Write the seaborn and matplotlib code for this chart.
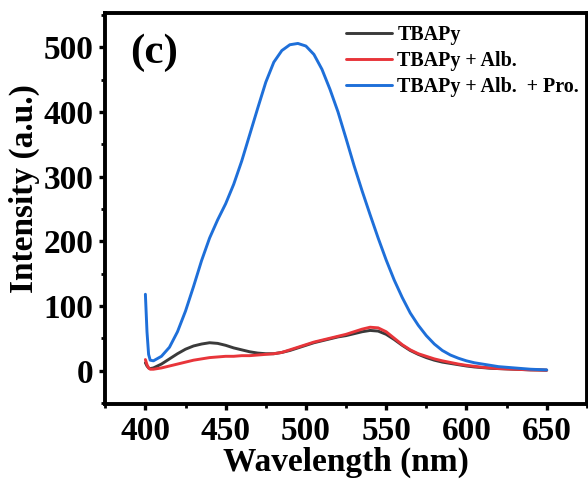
import numpy as np
import pandas as pd
import matplotlib
matplotlib.use("Agg")
import matplotlib.pyplot as plt
import seaborn as sns
from matplotlib.ticker import MultipleLocator

# Emission wavelengths (nm)
wavelength = [400, 401, 402, 403, 405, 410, 415, 420, 425, 430, 435, 440, 445,
              450, 455, 460, 465, 470, 475, 480, 485, 490, 495, 500, 505, 510,
              515, 520, 525, 530, 535, 540, 545, 550, 555, 560, 565, 570, 575,
              580, 585, 590, 595, 600, 605, 610, 615, 620, 625, 630, 635, 640,
              645, 650]

# Fluorescence intensity (a.u.)
tbapy = [12, 7, 4, 3, 4, 10, 18, 26, 33, 38, 41, 43, 42,
         39, 35, 32, 29, 27, 26, 26, 28, 31, 35, 39, 43, 46,
         49, 52, 54, 57, 60, 62, 61, 56, 48, 39, 31, 25, 20,
         16, 13, 11, 9, 7, 5.5, 4.5, 3.5, 3, 2.5, 2, 1.5, 1,
         0.8, 0.5]

tbapy_alb = [17, 9, 4, 2, 2, 4, 7, 10, 13, 16, 18, 20, 21,
             22, 22, 23, 23, 24, 25, 26, 28, 32, 36, 40, 44, 47,
             50, 53, 56, 60, 64, 67, 66, 60, 50, 40, 32, 26, 22,
             18, 15, 12.5, 10, 8, 6.5, 5, 4, 3, 2.5, 2, 1.5, 1,
             0.8, 0.5]

tbapy_alb_pro = [118, 60, 25, 16, 15, 22, 36, 60, 92, 130, 170, 205, 233,
                 258, 288, 324, 365, 406, 446, 477, 495, 504, 506, 502, 489, 466,
                 435, 400, 359, 317, 278, 241, 205, 171, 140, 113, 89, 70, 54,
                 41, 31, 24, 19, 15, 12, 10, 8, 6, 5, 4, 3, 2,
                 1.5, 1]

series_names = ["TBAPy", "TBAPy + Alb.", "TBAPy + Alb.  + Pro."]
series_colors = ["#3a3a3a", "#e8353a", "#1e6fd9"]

df = pd.concat([
    pd.DataFrame({"Wavelength": wavelength, "Intensity": vals, "Sample": name})
    for name, vals in zip(series_names, [tbapy, tbapy_alb, tbapy_alb_pro])
], ignore_index=True)

sns.set_style("ticks")
plt.rcParams["font.family"] = ["Liberation Serif", "DejaVu Serif"]
plt.rcParams["font.weight"] = "bold"
plt.rcParams["text.color"] = "black"
plt.rcParams["axes.labelcolor"] = "black"

fig = plt.figure(figsize=(5.88, 4.84), dpi=100)
ax = fig.add_axes([0.179, 0.165, 0.819, 0.808])

sns.lineplot(data=df, x="Wavelength", y="Intensity", hue="Sample",
             hue_order=series_names, palette=series_colors,
             linewidth=2.1, ax=ax, sort=False, estimator=None)

ax.set_xlim(375, 675)
ax.set_ylim(-52, 553)
ax.xaxis.set_major_locator(MultipleLocator(50))
ax.xaxis.set_minor_locator(MultipleLocator(25))
ax.yaxis.set_major_locator(MultipleLocator(100))
ax.yaxis.set_minor_locator(MultipleLocator(50))

for side in ["left", "right", "top", "bottom"]:
    ax.spines[side].set_visible(True)
    ax.spines[side].set_linewidth(2.8)
    ax.spines[side].set_color("black")

ax.tick_params(which="major", direction="out", length=4.5, width=2.4,
               labelsize=24, colors="black", pad=4)
ax.tick_params(which="minor", direction="out", length=3, width=2.0,
               colors="black")
ax.tick_params(top=False, right=False, which="both")
for lbl in ax.get_xticklabels() + ax.get_yticklabels():
    lbl.set_fontweight("bold")

ax.set_xlabel("Wavelength (nm)", fontsize=24, fontweight="bold",
              labelpad=0, color="black")
ax.set_ylabel("Intensity (a.u.)", fontsize=24, fontweight="bold",
              color="black")
ax.yaxis.set_label_coords(-0.136, 0.55)

ax.text(0.052, 0.873, "(c)", transform=ax.transAxes, fontsize=31,
        fontweight="bold", va="baseline", ha="left", color="black")

handles, labels = ax.get_legend_handles_labels()
ax.get_legend().remove()
leg = fig.legend(handles=handles, labels=labels,
                 loc="upper left", bbox_to_anchor=(0.589, 0.949),
                 frameon=False, fontsize=14.4, handlelength=2.3,
                 handletextpad=0.25, labelspacing=0.3, borderpad=0,
                 borderaxespad=0, labelcolor="black")
for t in leg.get_texts():
    t.set_fontweight("bold")
for h in leg.get_lines():
    h.set_linewidth(2.1)

fig.savefig("out.png", dpi=100)
